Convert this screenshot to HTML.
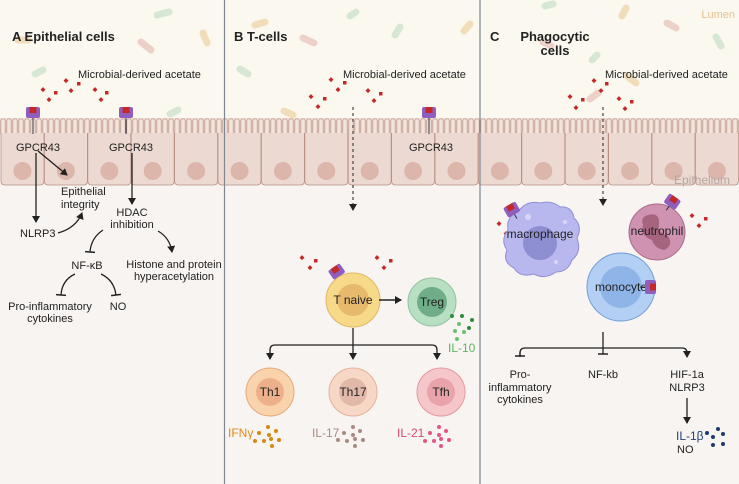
<!DOCTYPE html>
<html><head><meta charset="utf-8"><style>
html,body{margin:0;padding:0;background:#f8f4f1}
svg{display:block}
text{font-family:"Liberation Sans",sans-serif;font-size:11px;fill:#222}
</style></head><body>
<svg width="739" height="484" viewBox="0 0 739 484" xmlns="http://www.w3.org/2000/svg">
<defs>
<marker id="ar" markerWidth="8" markerHeight="8" refX="6" refY="4" orient="auto" markerUnits="userSpaceOnUse"><path d="M0,0 L7,4 L0,8 z" fill="#222"/></marker>
<marker id="tb" markerWidth="10" markerHeight="10" refX="1" refY="5" orient="auto" markerUnits="userSpaceOnUse"><path d="M1,0 L1,10" stroke="#222" stroke-width="1.5"/></marker>
<pattern id="mv" x="0" y="118" width="6" height="16" patternUnits="userSpaceOnUse">
<rect width="6" height="16" fill="#ecd9d1"/>
<path d="M0.8,16 V3 A2.2,2.2 0 0 1 5.2,3 V16" fill="#f3e4dc" stroke="#b99186" stroke-width="0.7"/>
</pattern>
<g id="cell"><path d="M0,133 V181 Q0,185 4,185 H39 Q43,185 43,181 V133" fill="#ecd9d1" stroke="#b99186" stroke-width="0.8"/><circle cx="21.5" cy="171" r="9" fill="#dcb6aa"/></g>
</defs>
<rect width="739" height="484" fill="#f8f4f1"/>
<rect width="739" height="118" fill="#fbf8ef"/>
<!-- bacteria -->
<g stroke-linecap="round" stroke-width="7" opacity="0.55">
<line x1="157" y1="15" x2="169" y2="12" stroke="#b8dcc0"/>
<line x1="203" y1="33" x2="207" y2="43" stroke="#ecc890"/>
<line x1="141" y1="42" x2="151" y2="50" stroke="#e2b0a8"/>
<line x1="35" y1="74" x2="43" y2="70" stroke="#b8dcc0"/>
<line x1="18" y1="40" x2="28" y2="40" stroke="#ecc890"/>
<line x1="170" y1="114" x2="178" y2="110" stroke="#b8dcc0"/>
<line x1="255" y1="25" x2="265" y2="22" stroke="#ecc890"/>
<line x1="303" y1="38" x2="314" y2="43" stroke="#e2b0a8"/>
<line x1="350" y1="16" x2="356" y2="12" stroke="#b8dcc0"/>
<line x1="395" y1="35" x2="400" y2="27" stroke="#b8dcc0"/>
<line x1="464" y1="31" x2="470" y2="24" stroke="#ecc890"/>
<line x1="240" y1="69" x2="248" y2="74" stroke="#b8dcc0"/>
<line x1="284" y1="111" x2="293" y2="115" stroke="#ecc890"/>
<line x1="545" y1="6" x2="553" y2="4" stroke="#b8dcc0"/>
<line x1="622" y1="16" x2="626" y2="8" stroke="#ecc890"/>
<line x1="667" y1="23" x2="676" y2="28" stroke="#e2b0a8"/>
<line x1="716" y1="37" x2="721" y2="46" stroke="#b8dcc0"/>
<line x1="627" y1="76" x2="636" y2="83" stroke="#ecc890"/>
<line x1="592" y1="60" x2="597" y2="55" stroke="#b8dcc0"/>
<line x1="590" y1="99" x2="598" y2="93" stroke="#e2b0a8"/>
<line x1="543" y1="42" x2="551" y2="46" stroke="#e2b0a8"/>
</g>
<text x="735" y="18" text-anchor="end" style="fill:#e3c193;font-size:11px">Lumen</text>
<!-- epithelium -->
<rect x="0" y="118" width="739" height="16" fill="url(#mv)"/>
<use href="#cell" x="1"/><use href="#cell" x="44.4"/><use href="#cell" x="87.8"/><use href="#cell" x="131.2"/><use href="#cell" x="174.6"/><use href="#cell" x="218"/><use href="#cell" x="261.4"/><use href="#cell" x="304.8"/><use href="#cell" x="348.2"/><use href="#cell" x="391.6"/><use href="#cell" x="435"/><use href="#cell" x="478.4"/><use href="#cell" x="521.8"/><use href="#cell" x="565.2"/><use href="#cell" x="608.6"/><use href="#cell" x="652"/><use href="#cell" x="695.4"/>
<text x="730" y="184" text-anchor="end" style="fill:#b4a6a2;font-size:12px">Epithelium</text>
<!-- dividers -->
<line x1="224.5" y1="0" x2="224.5" y2="484" stroke="#7f8890" stroke-width="1.2"/>
<line x1="480" y1="0" x2="480" y2="484" stroke="#7f8890" stroke-width="1.2"/>
<!-- titles -->
<text x="12" y="41" style="font-weight:bold;font-size:13px">A  Epithelial cells</text>
<text x="234" y="41" style="font-weight:bold;font-size:13px">B   T-cells</text>
<text x="490" y="41" style="font-weight:bold;font-size:13px">C</text>
<text x="555" y="41" text-anchor="middle" style="font-weight:bold;font-size:13px">Phagocytic</text>
<text x="555" y="55" text-anchor="middle" style="font-weight:bold;font-size:13px">cells</text>
<text x="78" y="78">Microbial-derived acetate</text>
<text x="343" y="78">Microbial-derived acetate</text>
<text x="605" y="78">Microbial-derived acetate</text>
<!-- acetate dots -->
<g fill="#c62828">
<rect x="64" y="79" width="3.5" height="3.5" transform="rotate(45 66 81)"/><rect x="77" y="82" width="3.5" height="3.5"/><rect x="41" y="88" width="3.5" height="3.5" transform="rotate(45 43 90)"/><rect x="54" y="91" width="3.5" height="3.5"/><rect x="69" y="89" width="3.5" height="3.5" transform="rotate(45 71 91)"/><rect x="47" y="98" width="3.5" height="3.5" transform="rotate(45 49 100)"/><rect x="93" y="88" width="3.5" height="3.5" transform="rotate(45 95 90)"/><rect x="105" y="91" width="3.5" height="3.5"/><rect x="99" y="98" width="3.5" height="3.5" transform="rotate(45 101 100)"/>
<rect x="329" y="78" width="3.5" height="3.5" transform="rotate(45 331 80)"/><rect x="343" y="81" width="3.5" height="3.5"/><rect x="336" y="88" width="3.5" height="3.5" transform="rotate(45 338 90)"/><rect x="309" y="95" width="3.5" height="3.5" transform="rotate(45 311 97)"/><rect x="323" y="97" width="3.5" height="3.5"/><rect x="316" y="105" width="3.5" height="3.5" transform="rotate(45 318 107)"/><rect x="366" y="89" width="3.5" height="3.5" transform="rotate(45 368 91)"/><rect x="379" y="92" width="3.5" height="3.5"/><rect x="372" y="99" width="3.5" height="3.5" transform="rotate(45 374 101)"/>
<rect x="592" y="79" width="3.5" height="3.5" transform="rotate(45 594 81)"/><rect x="605" y="82" width="3.5" height="3.5"/><rect x="599" y="89" width="3.5" height="3.5" transform="rotate(45 601 91)"/><rect x="568" y="95" width="3.5" height="3.5" transform="rotate(45 570 97)"/><rect x="581" y="98" width="3.5" height="3.5"/><rect x="574" y="106" width="3.5" height="3.5" transform="rotate(45 576 108)"/><rect x="617" y="97" width="3.5" height="3.5" transform="rotate(45 619 99)"/><rect x="630" y="100" width="3.5" height="3.5"/><rect x="623" y="107" width="3.5" height="3.5" transform="rotate(45 625 109)"/>
<rect x="497" y="222" width="3.5" height="3.5" transform="rotate(45 499 224)"/><rect x="511" y="225" width="3.5" height="3.5"/><rect x="504" y="232" width="3.5" height="3.5" transform="rotate(45 506 234)"/>
<rect x="690" y="214" width="3.5" height="3.5" transform="rotate(45 692 216)"/><rect x="704" y="217" width="3.5" height="3.5"/><rect x="697" y="224" width="3.5" height="3.5" transform="rotate(45 699 226)"/>
<rect x="300" y="256" width="3.5" height="3.5" transform="rotate(45 302 258)"/><rect x="314" y="259" width="3.5" height="3.5"/><rect x="308" y="266" width="3.5" height="3.5" transform="rotate(45 310 268)"/>
<rect x="375" y="256" width="3.5" height="3.5" transform="rotate(45 377 258)"/><rect x="389" y="259" width="3.5" height="3.5"/><rect x="382" y="266" width="3.5" height="3.5" transform="rotate(45 384 268)"/>
</g>
<!-- receptors -->
<g transform="translate(33,107)"><line x1="0" y1="8" x2="0" y2="27" stroke="#334" stroke-width="1"/><rect x="-7" y="0" width="14" height="11" rx="2" fill="#8e5fbf"/><rect x="-3.5" y="0" width="7" height="6" fill="#c62828"/></g>
<g transform="translate(126,107)"><line x1="0" y1="8" x2="0" y2="27" stroke="#334" stroke-width="1"/><rect x="-7" y="0" width="14" height="11" rx="2" fill="#8e5fbf"/><rect x="-3.5" y="0" width="7" height="6" fill="#c62828"/></g>
<g transform="translate(429,107)"><line x1="0" y1="8" x2="0" y2="27" stroke="#334" stroke-width="1"/><rect x="-7" y="0" width="14" height="11" rx="2" fill="#8e5fbf"/><rect x="-3.5" y="0" width="7" height="6" fill="#c62828"/></g>
<text x="16" y="151">GPCR43</text>
<text x="109" y="151">GPCR43</text>
<text x="409" y="151">GPCR43</text>
<!-- Panel A arrows -->
<g stroke="#222" stroke-width="1.3" fill="none">
<line x1="38" y1="151" x2="67" y2="175" marker-end="url(#ar)"/>
<line x1="36" y1="153" x2="36" y2="222" marker-end="url(#ar)"/>
<path d="M58,233 Q76,228 82,213" marker-end="url(#ar)"/>
<line x1="132" y1="153" x2="132" y2="204" marker-end="url(#ar)"/>
<path d="M103,230 Q91,238 90,252" marker-end="url(#tb)"/>
<path d="M158,231 Q170,238 172,252" marker-end="url(#ar)"/>
<path d="M75,274 Q62,280 61,295" marker-end="url(#tb)"/>
<path d="M101,274 Q114,280 116,295" marker-end="url(#tb)"/>
</g>
<text x="61" y="195">Epithelial</text>
<text x="61" y="208">integrity</text>
<text x="20" y="237">NLRP3</text>
<text x="132" y="216" text-anchor="middle">HDAC</text>
<text x="132" y="228" text-anchor="middle">inhibition</text>
<text x="87" y="269" text-anchor="middle">NF-κB</text>
<text x="174" y="268" text-anchor="middle">Histone and protein</text>
<text x="174" y="280" text-anchor="middle">hyperacetylation</text>
<text x="50" y="310" text-anchor="middle">Pro-inflammatory</text>
<text x="50" y="322" text-anchor="middle">cytokines</text>
<text x="118" y="310" text-anchor="middle">NO</text>
<!-- Panel B -->
<line x1="353" y1="107" x2="353" y2="210" stroke="#444" stroke-width="1.2" stroke-dasharray="3,3" marker-end="url(#ar)"/>
<g transform="translate(337,272) rotate(-35)"><line x1="0" y1="4" x2="0" y2="10" stroke="#334"/><rect x="-7" y="-6" width="14" height="11" rx="2" fill="#8e5fbf"/><rect x="-3.5" y="-6" width="7" height="6" fill="#c62828"/></g>
<circle cx="353" cy="300" r="27" fill="#f7d98a" stroke="#e1b863"/><circle cx="353" cy="300" r="16" fill="#e6b96c"/>
<text x="353" y="304" text-anchor="middle" style="font-size:12px">T naive</text>
<line x1="379" y1="300" x2="401" y2="300" stroke="#222" stroke-width="1.5" marker-end="url(#ar)"/>
<circle cx="432" cy="302" r="24" fill="#b9dfc3" stroke="#8fc3a0"/><circle cx="432" cy="302" r="15" fill="#6fae88"/>
<text x="432" y="306" text-anchor="middle" style="font-size:12px">Treg</text>
<g fill="#2e8b3a"><circle cx="452" cy="316" r="2"/><circle cx="462" cy="316" r="2"/><circle cx="472" cy="320" r="2"/><circle cx="459" cy="324" r="2" fill="#6cc070"/><circle cx="469" cy="328" r="2"/><circle cx="455" cy="331" r="2" fill="#6cc070"/><circle cx="464" cy="332" r="2" fill="#6cc070"/><circle cx="457" cy="339" r="2" fill="#6cc070"/></g>
<text x="448" y="352" style="fill:#5bb85e;font-size:12px">IL-10</text>
<g stroke="#222" stroke-width="1.3" fill="none">
<line x1="353" y1="328" x2="353" y2="359" marker-end="url(#ar)"/>
<path d="M270,359 V350 Q270,345 275,345 H432 Q437,345 437,350 V359" marker-end="url(#ar)"/>
<line x1="270" y1="352" x2="270" y2="359" marker-end="url(#ar)"/>
</g>
<circle cx="270" cy="392" r="24" fill="#f9d3ab" stroke="#e5a979"/><circle cx="270" cy="392" r="14" fill="#eeb08a"/>
<text x="270" y="396" text-anchor="middle" style="font-size:12px">Th1</text>
<circle cx="353" cy="392" r="24" fill="#f7d8c7" stroke="#e2b39c"/><circle cx="353" cy="392" r="14" fill="#e2b8a9"/>
<text x="353" y="396" text-anchor="middle" style="font-size:12px">Th17</text>
<circle cx="441" cy="392" r="24" fill="#f5c6ca" stroke="#e29aa1"/><circle cx="441" cy="392" r="14" fill="#e9a3aa"/>
<text x="441" y="396" text-anchor="middle" style="font-size:12px">Tfh</text>
<text x="228" y="437" style="fill:#e48a1a;font-size:12px">IFNγ</text>
<g fill="#d68a10"><circle cx="268" cy="427" r="2"/><circle cx="259" cy="433" r="2"/><circle cx="269" cy="435" r="2"/><circle cx="276" cy="431" r="2"/><circle cx="255" cy="441" r="2"/><circle cx="264" cy="441" r="2"/><circle cx="271" cy="439" r="2"/><circle cx="279" cy="440" r="2"/><circle cx="272" cy="446" r="2"/></g>
<text x="312" y="437" style="fill:#a88a82;font-size:12px">IL-17</text>
<g fill="#a88a82"><circle cx="353" cy="427" r="2"/><circle cx="344" cy="433" r="2"/><circle cx="353" cy="435" r="2"/><circle cx="360" cy="431" r="2"/><circle cx="338" cy="440" r="2"/><circle cx="347" cy="441" r="2"/><circle cx="355" cy="439" r="2"/><circle cx="363" cy="440" r="2"/><circle cx="355" cy="446" r="2"/></g>
<text x="397" y="437" style="fill:#d84a6e;font-size:12px">IL-21</text>
<g fill="#e45585"><circle cx="439" cy="427" r="2"/><circle cx="430" cy="433" r="2"/><circle cx="439" cy="435" r="2"/><circle cx="446" cy="431" r="2"/><circle cx="425" cy="441" r="2"/><circle cx="434" cy="441" r="2"/><circle cx="441" cy="439" r="2"/><circle cx="449" cy="440" r="2"/><circle cx="441" cy="446" r="2"/></g>
<!-- Panel C -->
<line x1="603" y1="107" x2="603" y2="205" stroke="#444" stroke-width="1.2" stroke-dasharray="3,3" marker-end="url(#ar)"/>
<path d="M540,203 Q552,200 560,207 Q572,206 574,218 Q583,226 577,238 Q582,252 572,260 Q568,272 556,272 Q545,280 534,274 Q520,278 514,268 Q502,262 507,250 Q500,240 508,230 Q506,216 518,212 Q526,200 540,203 Z" fill="#b8b8ee" stroke="#8f8fd8"/>
<circle cx="540" cy="243" r="17" fill="#8e8ed2"/>
<circle cx="528" cy="217" r="3" fill="#d6d6f7"/><circle cx="565" cy="222" r="2" fill="#d6d6f7"/><circle cx="556" cy="262" r="2" fill="#d6d6f7"/>
<text x="540" y="238" text-anchor="middle" style="font-size:12px">macrophage</text>
<g transform="translate(512,210) rotate(-30)"><line x1="0" y1="4" x2="0" y2="10" stroke="#334"/><rect x="-7" y="-6" width="14" height="11" rx="2" fill="#8e5fbf"/><rect x="-3.5" y="-6" width="7" height="6" fill="#c62828"/></g>
<circle cx="657" cy="232" r="28" fill="#cf93b1" stroke="#a86c8c"/>
<path d="M648,215 Q660,212 659,224 Q657,232 668,236 Q674,246 664,250 Q654,248 652,240 Q640,236 643,225 Q640,217 648,215 Z" fill="#a6647f"/>
<text x="657" y="235" text-anchor="middle" style="font-size:12px">neutrophil</text>
<g transform="translate(672,202) rotate(35)"><line x1="0" y1="4" x2="0" y2="10" stroke="#334"/><rect x="-7" y="-6" width="14" height="11" rx="2" fill="#8e5fbf"/><rect x="-3.5" y="-6" width="7" height="6" fill="#c62828"/></g>
<circle cx="621" cy="287" r="34" fill="#b3cff3" stroke="#6f9ed8"/><circle cx="621" cy="287" r="21" fill="#8fb4e8"/>
<text x="621" y="291" text-anchor="middle" style="font-size:12px">monocyte</text>
<g transform="translate(650,287) rotate(90)"><line x1="0" y1="4" x2="0" y2="10" stroke="#334"/><rect x="-7" y="-6" width="14" height="11" rx="2" fill="#8e5fbf"/><rect x="-3.5" y="-6" width="7" height="6" fill="#c62828"/></g>
<g stroke="#222" stroke-width="1.3" fill="none">
<line x1="603" y1="332" x2="603" y2="354" marker-end="url(#tb)"/>
<path d="M520,357 V353 Q520,348 525,348 H682 Q687,348 687,353 V357" marker-end="url(#ar)"/>
<line x1="520" y1="352" x2="520" y2="356" marker-end="url(#tb)"/>
<line x1="687" y1="398" x2="687" y2="423" marker-end="url(#ar)"/>
</g>
<text x="520" y="378" text-anchor="middle">Pro-</text>
<text x="520" y="391" text-anchor="middle">inflammatory</text>
<text x="520" y="403" text-anchor="middle">cytokines</text>
<text x="603" y="378" text-anchor="middle">NF-kb</text>
<text x="687" y="378" text-anchor="middle">HIF-1a</text>
<text x="687" y="391" text-anchor="middle">NLRP3</text>
<text x="676" y="440" style="fill:#23437a;font-size:12px">IL-1β</text>
<text x="677" y="453">NO</text>
<g fill="#1e3a6e"><circle cx="707" cy="433" r="2"/><circle cx="718" cy="429" r="2"/><circle cx="713" cy="437" r="2"/><circle cx="723" cy="434" r="2"/><circle cx="713" cy="445" r="2"/><circle cx="723" cy="444" r="2"/></g>
</svg>
</body></html>
